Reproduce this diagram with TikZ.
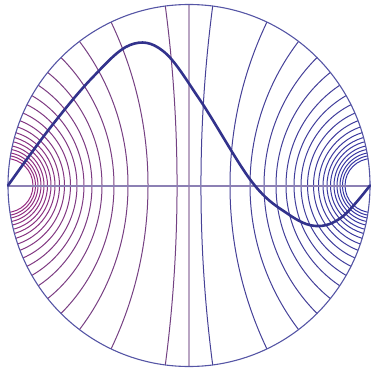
\documentclass[tikz,border=0pt]{standalone}
\usepackage{tikz}
\usetikzlibrary{calc}
\definecolor{leftfar}{RGB}{150,45,130}
\definecolor{leftnear}{RGB}{115,65,130}
\definecolor{rightnear}{RGB}{70,65,150}
\definecolor{rightfar}{RGB}{55,55,165}
\definecolor{midline}{RGB}{185,165,195}
\definecolor{axiscol}{RGB}{140,128,180}
\definecolor{rimcol}{RGB}{85,85,165}
\definecolor{curvecol}{RGB}{50,50,140}
\tikzset{
  arcline/.style={line width=1pt},
  rim/.style={draw=rimcol,line width=1.1pt},
  thick curve/.style={draw=curvecol,line width=2.6pt,line cap=round,line join=round}
}
\begin{document}
\begin{tikzpicture}[x=1pt,y=-1pt]
\useasboundingbox (0,0) rectangle (371,371);
\def\R{181}
\coordinate (O) at (189,185.5);
\coordinate (L) at (8,185.5);
\coordinate (Rt) at (370,185.5);
\begin{scope}
  \clip (O) circle (\R);
  \foreach \d [count=\i] in {12,41,61,75,87,97,105,112,118.5,124.5,129.5,134,138,141.5,145,148,151,153.5,156} {
    \pgfmathsetmacro{\u}{\d/\R}
    \pgfmathsetmacro{\C}{\R*(1+\u*\u)/(2*\u)}
    \pgfmathsetmacro{\r}{\R*(1-\u*\u)/(2*\u)}
    \pgfmathtruncatemacro{\p}{100*(\i-1)/18}
    \draw[arcline,draw=leftfar!\p!leftnear] ($(O)+(-\C,0)$) circle (\r);
    \draw[arcline,draw=rightfar!\p!rightnear] ($(O)+(\C,0)$) circle (\r);
  }
  \draw[draw=midline,line width=2pt] (189,0) -- (189,371);
\end{scope}
\draw[draw=axiscol,line width=2pt] (L) -- (Rt);
\draw[rim] (O) circle (\R);
\draw[thick curve] plot[smooth,tension=0.6] coordinates {(8,185.5) (50,128) (92,78) (130,45) (163,51) (200,100) (252,182) (288,214) (316,226) (342,217) (370,185.5)};
\end{tikzpicture}
\end{document}
